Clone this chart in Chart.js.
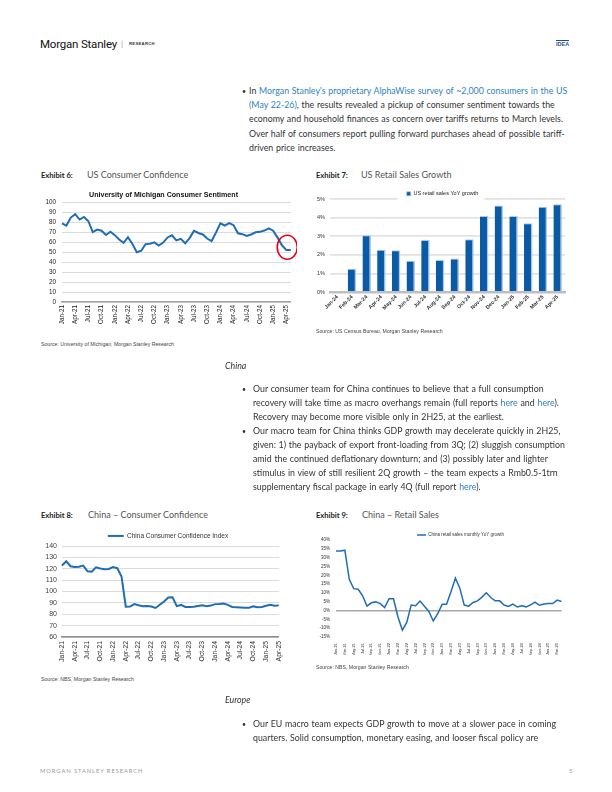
<!DOCTYPE html>
<html>
<head>
<meta charset="utf-8">
<script src="https://cdn.jsdelivr.net/npm/chart.js@4.4.1/dist/chart.umd.min.js"></script>
<style>
body { margin: 0; background: #fff; }
#page { position: relative; width: 612px; height: 792px; overflow: hidden; font-family: Lato, "Open Sans", sans-serif; color: #333; }
.t { position: absolute; white-space: nowrap; font-size: 8.8px; word-spacing: 0.5px; line-height: 14px; }
.a { color: #2f7fc1; }
.dot { position: absolute; font-size: 7px; line-height: 14px; }
.exn { position: absolute; white-space: nowrap; font-size: 7.6px; font-weight: 700; color: #222; line-height: 12px; }
.ext { position: absolute; white-space: nowrap; font-size: 9px; color: #555; line-height: 12px; }
.src { position: absolute; white-space: nowrap; font-family: "Liberation Sans", sans-serif; font-size: 5.2px; color: #444; line-height: 8px; }
.box { position: absolute; }
</style>
</head>
<body>
<div id="page">
  <!-- header -->
  <div class="t" style="left:40px;top:37px;font-family:Roboto;font-size:11.5px;color:#111;letter-spacing:-0.2px;word-spacing:0;">Morgan Stanley</div>
  <div class="t" style="left:121px;top:37px;font-size:8px;color:#999;">|</div>
  <div class="t" style="left:129px;top:37px;font-family:'Liberation Sans';font-weight:700;font-size:4.2px;letter-spacing:0.3px;color:#333;">RESEARCH</div>
  <div class="t" style="left:556px;top:40px;font-family:'Liberation Sans';font-weight:700;font-size:5.5px;line-height:7px;color:#1d4f8f;border-top:1px solid #1d4f8f;">IDEA</div>

  <!-- bullet 1 -->
  <div class="dot" style="left:242px;top:84px;">•</div>
  <div class="t" style="left:249px;top:84px;">In <span class="a">Morgan Stanley's proprietary AlphaWise survey of ~2,000 consumers in the US</span></div>
  <div class="t" style="left:249px;top:98px;"><span class="a">(May 22-26)</span>, the results revealed a pickup of consumer sentiment towards the</div>
  <div class="t" style="left:249px;top:112px;">economy and household finances as concern over tariffs returns to March levels.</div>
  <div class="t" style="left:249px;top:127px;">Over half of consumers report pulling forward purchases ahead of possible tariff-</div>
  <div class="t" style="left:249px;top:141px;">driven price increases.</div>

  <!-- exhibit 6 / 7 headings -->
  <div class="exn" style="left:41px;top:169px;">Exhibit 6:</div>
  <div class="ext" style="left:87px;top:169px;">US Consumer Confidence</div>
  <div class="exn" style="left:316px;top:169px;">Exhibit 7:</div>
  <div class="ext" style="left:361px;top:169px;">US Retail Sales Growth</div>

  <div class="box" style="left:34px;top:186px;width:263px;height:147px;"><canvas id="umich"></canvas></div>
  <div class="box" style="left:312px;top:189px;width:256px;height:125px;"><canvas id="usretail"></canvas></div>

  <div class="src" style="left:41px;top:340px;">Source: University of Michigan, Morgan Stanley Research</div>
  <div class="src" style="left:316px;top:327px;">Source: US Census Bureau, Morgan Stanley Research</div>

  <!-- China -->
  <div class="t" style="left:225px;top:359px;font-style:italic;">China</div>
  <div class="dot" style="left:242px;top:382px;">•</div>
  <div class="t" style="left:253px;top:382px;">Our consumer team for China continues to believe that a full consumption</div>
  <div class="t" style="left:253px;top:396px;">recovery will take time as macro overhangs remain (full reports <span class="a">here</span> and <span class="a">here</span>).</div>
  <div class="t" style="left:253px;top:410px;">Recovery may become more visible only in 2H25, at the earliest.</div>
  <div class="dot" style="left:242px;top:424px;">•</div>
  <div class="t" style="left:253px;top:424px;">Our macro team for China thinks GDP growth may decelerate quickly in 2H25,</div>
  <div class="t" style="left:253px;top:438px;">given: 1) the payback of export front-loading from 3Q; (2) sluggish consumption</div>
  <div class="t" style="left:253px;top:452px;">amid the continued deflationary downturn; and (3) possibly later and lighter</div>
  <div class="t" style="left:253px;top:466px;">stimulus in view of still resilient 2Q growth – the team expects a Rmb0.5-1trn</div>
  <div class="t" style="left:253px;top:480px;">supplementary fiscal package in early 4Q (full report <span class="a">here</span>).</div>

  <!-- exhibit 8 / 9 headings -->
  <div class="exn" style="left:41px;top:509px;">Exhibit 8:</div>
  <div class="ext" style="left:88px;top:509px;">China – Consumer Confidence</div>
  <div class="exn" style="left:316px;top:509px;">Exhibit 9:</div>
  <div class="ext" style="left:362px;top:509px;">China – Retail Sales</div>

  <div class="box" style="left:34px;top:530px;width:257px;height:134px;"><canvas id="chinaconf"></canvas></div>
  <div class="box" style="left:312px;top:531px;width:256px;height:124px;"><canvas id="chinaretail"></canvas></div>

  <div class="src" style="left:41px;top:675px;">Source: NBS, Morgan Stanley Research</div>
  <div class="src" style="left:316px;top:663px;">Source: NBS, Morgan Stanley Research</div>

  <!-- Europe -->
  <div class="t" style="left:225px;top:693px;font-style:italic;">Europe</div>
  <div class="dot" style="left:242px;top:717px;">•</div>
  <div class="t" style="left:253px;top:717px;">Our EU macro team expects GDP growth to move at a slower pace in coming</div>
  <div class="t" style="left:253px;top:731px;">quarters. Solid consumption, monetary easing, and looser fiscal policy are</div>

  <!-- footer -->
  <div class="t" style="left:40px;top:764px;font-size:5.8px;letter-spacing:0.9px;word-spacing:0;color:#999;">MORGAN STANLEY RESEARCH</div>
  <div class="t" style="left:569px;top:764px;font-size:6px;color:#999;">5</div>
</div>

<script>
// Exhibit 6: University of Michigan consumer sentiment
const umichMonths = [
    'Jan-21','Feb-21','Mar-21','Apr-21','May-21','Jun-21','Jul-21','Aug-21','Sep-21','Oct-21','Nov-21','Dec-21',
    'Jan-22','Feb-22','Mar-22','Apr-22','May-22','Jun-22','Jul-22','Aug-22','Sep-22','Oct-22','Nov-22','Dec-22',
    'Jan-23','Feb-23','Mar-23','Apr-23','May-23','Jun-23','Jul-23','Aug-23','Sep-23','Oct-23','Nov-23','Dec-23',
    'Jan-24','Feb-24','Mar-24','Apr-24','May-24','Jun-24','Jul-24','Aug-24','Sep-24','Oct-24','Nov-24','Dec-24',
    'Jan-25','Feb-25','Mar-25','Apr-25','May-25'
];
const umichValues = [
    79.0, 76.8, 84.9, 88.3, 82.9, 85.5, 81.2, 70.3, 72.8, 71.7, 67.4, 70.6,
    67.2, 62.8, 59.4, 65.2, 58.4, 50.0, 51.5, 58.2, 58.6, 59.9, 56.8, 59.7,
    64.9, 67.0, 62.0, 63.5, 59.0, 64.2, 71.5, 69.4, 67.9, 63.8, 61.3, 69.7,
    79.0, 76.9, 79.4, 77.2, 69.1, 68.2, 66.4, 67.9, 70.1, 70.5, 71.8, 74.0,
    71.7, 64.7, 57.0, 52.2, 52.2
];

// Exhibit 7: US retail sales YoY growth (%)
const retailMonths = ['Jan-24','Feb-24','Mar-24','Apr-24','May-24','Jun-24','Jul-24','Aug-24',
    'Sep-24','Oct-24','Nov-24','Dec-24','Jan-25','Feb-25','Mar-25','Apr-25'];
const retailValues = [-0.05, 1.25, 3.05, 2.27, 2.25, 1.68, 2.8, 1.72, 1.8, 2.83, 4.08, 4.65, 4.08, 3.7, 4.58, 4.72];

// Exhibit 8 / 9: China
const chinaMonths = [
    'Jan-21','Feb-21','Mar-21','Apr-21','May-21','Jun-21','Jul-21','Aug-21','Sep-21','Oct-21','Nov-21','Dec-21',
    'Jan-22','Feb-22','Mar-22','Apr-22','May-22','Jun-22','Jul-22','Aug-22','Sep-22','Oct-22','Nov-22','Dec-22',
    'Jan-23','Feb-23','Mar-23','Apr-23','May-23','Jun-23','Jul-23','Aug-23','Sep-23','Oct-23','Nov-23','Dec-23',
    'Jan-24','Feb-24','Mar-24','Apr-24','May-24','Jun-24','Jul-24','Aug-24','Sep-24','Oct-24','Nov-24','Dec-24',
    'Jan-25','Feb-25','Mar-25','Apr-25'
];
const chinaConfValues = [
    122.8, 126.6, 122.2, 121.5, 121.8, 122.8, 117.8, 117.5, 121.2, 120.2, 119.5, 119.8,
    121.5, 120.5, 113.2, 86.7, 86.8, 88.9, 87.9, 87.0, 87.2, 86.8, 85.5, 88.3,
    91.2, 94.7, 94.9, 87.1, 88.2, 86.4, 86.3, 86.5, 87.2, 87.9, 87.0, 87.6,
    88.9, 89.1, 89.4, 88.2, 86.4, 86.2, 86.0, 85.8, 85.7, 86.9, 86.2, 86.4,
    87.5, 88.4, 87.5, 87.8
];
const chinaRetailValues = [
    33.8, 33.8, 34.2, 17.7, 12.4, 12.1, 8.5, 2.5, 4.4, 4.9, 3.9, 1.7,
    6.7, 6.7, -3.5, -11.1, -6.7, 3.1, 2.7, 5.4, 2.5, -0.5, -5.9, -1.8,
    3.5, 3.5, 10.6, 18.4, 12.7, 3.1, 2.5, 4.6, 5.5, 7.6, 10.1, 7.4,
    5.5, 5.5, 3.1, 2.3, 3.7, 2.0, 2.7, 2.1, 3.2, 4.8, 3.0, 3.7,
    4.0, 4.0, 5.9, 5.1
];

const lineBlue = '#1f6db5';
Chart.defaults.font.family = "'Liberation Sans', Arial, sans-serif";
Chart.defaults.animation = false;
Chart.defaults.plugins.tooltip.enabled = false;

// moves the legend sideways (the legend box is always as wide as the canvas)
const legendShift = {
    id: 'legendShift',
    afterLayout(chart, args, opts) {
        if (chart.legend && opts.dx) {
            chart.legend.left += opts.dx;
            chart.legend.right += opts.dx;
        }
    }
};

// red ring round the last readings of exhibit 6
const redCircle = {
    id: 'redCircle',
    afterDatasetsDraw(chart) {
        const { ctx, scales: { x, y } } = chart;
        const cx = x.getPixelForValue(umichValues.length - 1.8);
        const cy = y.getPixelForValue(55);
        ctx.save();
        ctx.strokeStyle = '#e5001a';
        ctx.lineWidth = 1.6;
        ctx.beginPath();
        ctx.ellipse(cx, cy, 10, 12, 0, 0, Math.PI * 2);
        ctx.stroke();
        ctx.restore();
    }
};

// white gap in the top gridline behind the bar legend
const legendGap = {
    id: 'legendGap',
    afterDraw(chart) {
        const box = chart.legend.legendHitBoxes[0];
        if (!box) return;
        const { ctx, chartArea } = chart;
        ctx.save();
        ctx.fillStyle = '#fff';
        ctx.fillRect(box.left - 9, chartArea.top - 1.6, box.width + 15, 3.2);
        ctx.restore();
    }
};

// Exhibit 6
new Chart(document.getElementById('umich'), {
    type: 'line',
    data: {
        labels: umichMonths,
        datasets: [{ data: umichValues, borderColor: lineBlue, borderWidth: 2, pointRadius: 0, tension: 0 }]
    },
    options: {
        responsive: true,
        maintainAspectRatio: false,
        layout: { padding: { right: 4 } },
        plugins: {
            legend: { display: false },
            title: {
                display: true,
                text: 'University of Michigan Consumer Sentiment',
                color: '#111',
                font: { size: 7.1, weight: 'bold' },
                padding: { top: 5, bottom: 3 }
            }
        },
        scales: {
            x: {
                grid: { display: false, drawTicks: false },
                border: { color: '#a6a6a6', width: 1.5 },
                ticks: {
                    autoSkip: false, minRotation: 90, maxRotation: 90, padding: 3,
                    color: '#222', font: { size: 6.3 },
                    callback: (v, i) => i % 3 === 0 ? umichMonths[i] : null
                },
                afterFit: s => { s.height = 31; }
            },
            y: {
                min: 0, max: 100,
                grid: { color: '#dcdcdc', drawTicks: false },
                border: { display: false },
                ticks: { stepSize: 10, autoSkip: false, padding: 6, color: '#222', font: { size: 6.3 } },
                afterFit: s => { s.width = 28; }
            }
        }
    },
    plugins: [redCircle]
});

// Exhibit 7
new Chart(document.getElementById('usretail'), {
    type: 'bar',
    data: {
        labels: retailMonths,
        datasets: [{
            label: 'US retail sales YoY growth',
            data: retailValues,
            backgroundColor: '#0b5aa5',
            borderColor: '#a8cbea',
            borderWidth: { top: 1, right: 1.5, bottom: 0, left: 0 },
            barPercentage: 0.58,
            categoryPercentage: 1
        }]
    },
    options: {
        responsive: true,
        maintainAspectRatio: false,
        layout: { padding: { right: 3 } },
        plugins: {
            legend: {
                display: true, position: 'top', maxHeight: 10,
                labels: { boxWidth: 4, boxHeight: 4, padding: 2, color: '#222', font: { size: 5.5 } }
            },
            legendShift: { dx: 4 }
        },
        scales: {
            x: {
                grid: { display: false, drawTicks: false },
                border: { color: '#bfbfbf', width: 2.5 },
                ticks: { autoSkip: false, minRotation: 45, maxRotation: 45, padding: 2, color: '#333', font: { size: 5.3, weight: 'bold' } },
                afterFit: s => { s.height = 22; }
            },
            y: {
                min: 0, max: 5,
                grid: { color: '#e2e2e2', lineWidth: 1.8, drawTicks: false },
                border: { display: false },
                ticks: { stepSize: 1, autoSkip: false, padding: 5, color: '#333', font: { size: 5.5 }, callback: v => v + '%' },
                afterFit: s => { s.width = 18; }
            }
        }
    },
    plugins: [legendShift, legendGap]
});

// Exhibit 8
new Chart(document.getElementById('chinaconf'), {
    type: 'line',
    data: {
        labels: chinaMonths,
        datasets: [{ label: 'China Consumer Confidence Index', data: chinaConfValues, borderColor: lineBlue, backgroundColor: lineBlue, borderWidth: 2, pointRadius: 0, tension: 0 }]
    },
    options: {
        responsive: true,
        maintainAspectRatio: false,
        layout: { padding: { right: 3 } },
        plugins: {
            legend: {
                display: true, position: 'top', maxHeight: 16,
                labels: { usePointStyle: true, pointStyle: 'line', pointStyleWidth: 16, padding: 2.7, color: '#333', font: { size: 6.5 } }
            },
            legendShift: { dx: 7 }
        },
        scales: {
            x: {
                grid: { display: false, drawTicks: false },
                border: { color: '#8c8c8c', width: 1.5 },
                ticks: {
                    autoSkip: false, minRotation: 90, maxRotation: 90, padding: 4, color: '#333', font: { size: 6.8 },
                    callback: (v, i) => i % 3 === 0 ? chinaMonths[i] : null
                },
                afterFit: s => { s.height = 27; }
            },
            y: {
                min: 60, max: 140,
                grid: { color: '#dcdcdc', drawTicks: false },
                border: { display: false },
                ticks: { stepSize: 10, autoSkip: false, padding: 5, color: '#404040', font: { size: 7 } },
                afterFit: s => { s.width = 28; }
            }
        }
    },
    plugins: [legendShift]
});

// Exhibit 9
new Chart(document.getElementById('chinaretail'), {
    type: 'line',
    data: {
        labels: chinaMonths,
        datasets: [{ label: 'China retail sales monthly YoY growth', data: chinaRetailValues, borderColor: lineBlue, backgroundColor: lineBlue, borderWidth: 1.5, pointRadius: 0, tension: 0 }]
    },
    options: {
        responsive: true,
        maintainAspectRatio: false,
        layout: { padding: { right: 5 } },
        plugins: {
            legend: {
                display: true, position: 'top', maxHeight: 9,
                labels: { usePointStyle: true, pointStyle: 'line', pointStyleWidth: 9, padding: 1.75, color: '#333', font: { size: 4.5 } }
            },
            legendShift: { dx: 23 }
        },
        scales: {
            x: {
                grid: { display: false, drawTicks: false },
                border: { display: false },
                ticks: {
                    autoSkip: false, minRotation: 90, maxRotation: 90, padding: 6, color: '#333', font: { size: 4 },
                    callback: (v, i) => i % 2 === 0 ? chinaMonths[i] : null
                },
                afterFit: s => { s.height = 18; }
            },
            y: {
                min: -15, max: 40,
                grid: { drawTicks: false, lineWidth: 1.5, color: c => c.tick.value === 0 ? '#a6a6a6' : 'rgba(0,0,0,0)' },
                border: { display: false },
                ticks: { stepSize: 5, autoSkip: false, padding: 6, color: '#333', font: { size: 4.5 }, callback: v => v + '%' },
                afterFit: s => { s.width = 24; }
            }
        }
    },
    plugins: [legendShift]
});
</script>
</body>
</html>
